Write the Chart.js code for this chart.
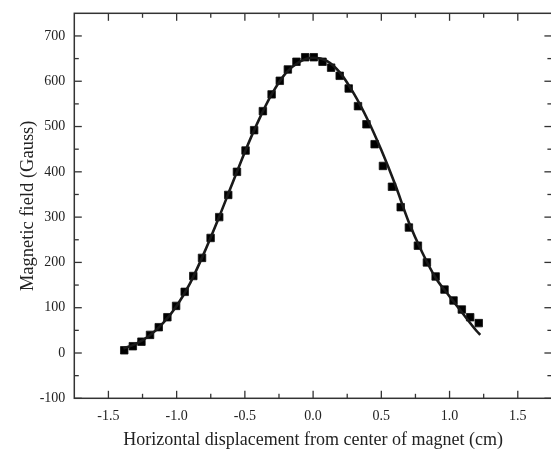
<!DOCTYPE html>
<html>
<head>
<meta charset="utf-8">
<script src="https://cdn.jsdelivr.net/npm/chart.js@4.4.1/dist/chart.umd.min.js"></script>
<style>
  html, body { margin: 0; padding: 0; background: #fff; overflow: hidden; }
</style>
</head>
<body>
<canvas id="fieldChart" width="558" height="451"></canvas>
<script>
// ===== DATA =====
// measured points (squares)
const posCm = [-1.384, -1.321, -1.258, -1.195, -1.131, -1.068, -1.004, -0.941, -0.878, -0.814,
               -0.751, -0.688, -0.622, -0.558, -0.495, -0.432, -0.368, -0.304, -0.244, -0.185,
               -0.122, -0.058, 0.005, 0.069, 0.132, 0.195, 0.261, 0.329, 0.391, 0.451,
               0.512, 0.578, 0.642, 0.702, 0.768, 0.834, 0.898, 0.963, 1.029, 1.090,
               1.151, 1.214];
const fieldGauss = [6, 15, 25, 40, 57, 79, 104, 135, 170, 210,
                    254, 300, 349, 400, 447, 492, 534, 571, 601, 626,
                    643, 653, 653, 643, 630, 612, 584, 545, 505, 461,
                    413, 367, 322, 277, 237, 200, 169, 140, 116, 96,
                    79, 66];

// fitted curve (solid line)
const fitCm    = [-1.39, -1.3, -1.2, -1.1, -1.0, -0.9, -0.8, -0.7, -0.6, -0.5, -0.4, -0.3, -0.2, -0.1,
                  0.0, 0.1, 0.2, 0.3, 0.4, 0.5, 0.6, 0.7, 0.8, 0.9, 1.0, 1.1, 1.2, 1.225];
const fitGauss = [10, 20, 38, 66, 104, 155, 220, 292, 368, 444, 513, 573, 618, 643,
                  652, 645, 618, 572, 515, 448, 373, 290, 222, 165, 125, 86, 48, 40];

// axes
const X_TICKS = [-1.5, -1.0, -0.5, 0.0, 0.5, 1.0, 1.5];
const Y_TICKS = [-100, 0, 100, 200, 300, 400, 500, 600, 700];
const X_TITLE = 'Horizontal displacement from center of magnet (cm)';
const Y_TITLE = 'Magnetic field (Gauss)';

const INK   = '#1a1a1a';
const AXIS  = '#333333';
const MAJOR = 7.5;
const MINOR = 4.5;

Chart.defaults.font.family = '"Liberation Serif", "DejaVu Serif", serif';
Chart.defaults.color = '#222';

// drop the label-overhang padding so the plot box sits where the layout says
const noPad = s => { s.paddingTop = 0; s.paddingBottom = 0; s.paddingLeft = 0; s.paddingRight = 0; };

// ======== FRAME + INWARD TICKS ========
const frameTicks = {
  id: 'frameTicks',
  afterDraw(chart) {
    const { ctx, chartArea: a, scales: { x, y } } = chart;
    const line = (x1, y1, x2, y2) => { ctx.beginPath(); ctx.moveTo(x1, y1); ctx.lineTo(x2, y2); ctx.stroke(); };
    ctx.save();
    ctx.strokeStyle = AXIS;
    ctx.lineWidth = 1.5;
    ctx.strokeRect(a.left, a.top, a.right - a.left, a.bottom - a.top);
    ctx.lineWidth = 1.3;

    X_TICKS.forEach((v, i) => {
      const px = x.getPixelForValue(v);
      line(px, a.bottom, px, a.bottom - MAJOR);
      line(px, a.top, px, a.top + MAJOR);
      if (i < X_TICKS.length - 1) {
        const mx = x.getPixelForValue((v + X_TICKS[i + 1]) / 2);
        line(mx, a.bottom, mx, a.bottom - MINOR);
        line(mx, a.top, mx, a.top + MINOR);
      }
    });
    Y_TICKS.forEach((v, i) => {
      const py = y.getPixelForValue(v);
      line(a.left, py, a.left + MAJOR, py);
      line(a.right, py, a.right - MAJOR, py);
      if (i < Y_TICKS.length - 1) {
        const my = y.getPixelForValue((v + Y_TICKS[i + 1]) / 2);
        line(a.left, my, a.left + MINOR, my);
        line(a.right, my, a.right - MINOR, my);
      }
    });
    ctx.restore();
  },
};

// ======== CHART ========
new Chart(document.getElementById('fieldChart'), {
  type: 'scatter',
  data: {
    datasets: [
      {
        label: 'Fit',
        type: 'line',
        data: fitCm.map((v, i) => ({ x: v, y: fitGauss[i] })),
        borderColor: INK,
        borderWidth: 2.6,
        pointRadius: 0,
        cubicInterpolationMode: 'monotone',
        fill: false,
        order: 1,
      },
      {
        label: 'Measured',
        data: posCm.map((v, i) => ({ x: v, y: fieldGauss[i] })),
        pointStyle: 'rect',
        pointRadius: 5.3,
        backgroundColor: '#000',
        borderColor: '#111',
        borderWidth: 0.8,
        order: 2,
      },
    ],
  },
  options: {
    responsive: false,
    animation: false,
    layout: { padding: { top: 13.3, right: 5.2, left: 0, bottom: 0 } },
    plugins: { legend: { display: false }, tooltip: { enabled: false } },
    scales: {
      x: {
        type: 'linear',
        min: -1.75, max: 1.75,
        grid: { display: false, drawTicks: false },
        border: { display: false },
        afterBuildTicks: s => { s.ticks = X_TICKS.map(v => ({ value: v })); },
        afterFit: s => { s.height = 52.7; noPad(s); },
        ticks: { padding: 10, font: { size: 14 }, callback: v => Number(v).toFixed(1), maxRotation: 0 },
        title: { display: true, text: X_TITLE, font: { size: 18 }, padding: { top: 0, bottom: 0 } },
      },
      y: {
        type: 'linear',
        min: -100, max: 750,
        grid: { display: false, drawTicks: false },
        border: { display: false },
        afterBuildTicks: s => { s.ticks = Y_TICKS.map(v => ({ value: v })); },
        afterFit: s => { s.width = 74.3; noPad(s); },
        ticks: { padding: 9, font: { size: 14 } },
        title: { display: true, text: Y_TITLE, font: { size: 18.5 }, padding: { top: 17, bottom: 0 } },
      },
    },
  },
  plugins: [frameTicks],
});
</script>
</body>
</html>
